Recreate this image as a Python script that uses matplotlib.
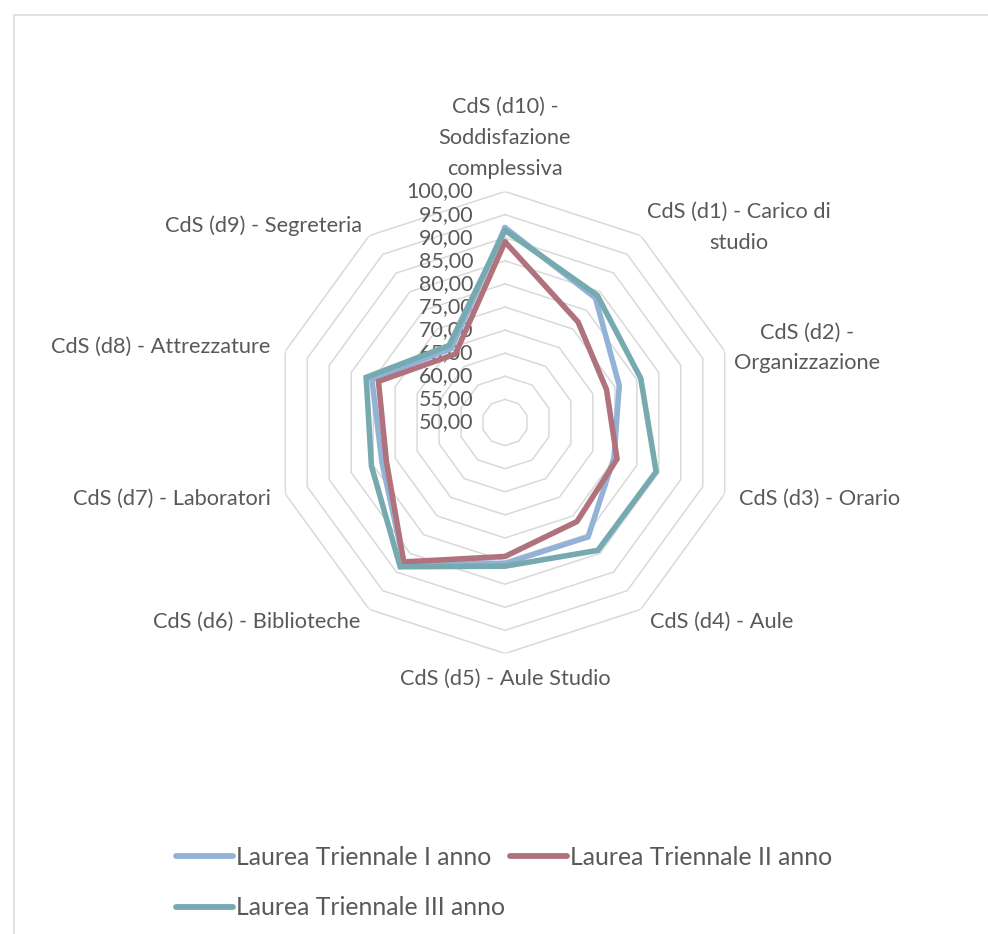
import numpy as np
import matplotlib
matplotlib.use("Agg")
import matplotlib.pyplot as plt
from matplotlib.patches import Rectangle
from matplotlib.transforms import offset_copy

plt.rcParams['font.family'] = ['Lato', 'DejaVu Sans']

# Axis categories, clockwise from the top
categories = [
    "CdS (d10) -\nSoddisfazione\ncomplessiva",
    "CdS (d1) - Carico di\nstudio",
    "CdS (d2) -\nOrganizzazione",
    "CdS (d3) - Orario",
    "CdS (d4) - Aule",
    "CdS (d5) - Aule Studio",
    "CdS (d6) - Biblioteche",
    "CdS (d7) - Laboratori",
    "CdS (d8) - Attrezzature",
    "CdS (d9) - Segreteria",
]

series_names = ["Laurea Triennale I anno", "Laurea Triennale II anno", "Laurea Triennale III anno"]
anno_1 = [92.2, 83.3, 76.0, 74.8, 80.6, 80.5, 87.3, 78.0, 80.3, 69.8]
anno_2 = [89.1, 76.9, 73.1, 75.5, 76.5, 79.0, 87.3, 77.0, 78.8, 68.3]
anno_3 = [91.6, 84.0, 80.9, 84.4, 84.2, 81.1, 88.6, 80.4, 81.6, 70.6]

r_ticks = [50, 55, 60, 65, 70, 75, 80, 85, 90, 95, 100]
r_tick_labels = ["50,00", "55,00", "60,00", "65,00", "70,00", "75,00",
                 "80,00", "85,00", "90,00", "95,00", "100,00"]

colors = ["#93B3D6", "#B0727C", "#77AAB0"]
text_color = "#595959"
grid_color = "#D9D9D9"

W, H = 988, 934
fig = plt.figure(figsize=(W / 100, H / 100), dpi=100)
fig.patch.set_facecolor("white")

# chart area border (extends past the right and bottom edges)
fig.add_artist(Rectangle((13.5 / W, -0.2), 1.5, (H - 14.5) / H + 0.2,
                         transform=fig.transFigure, fill=False,
                         edgecolor=grid_color, linewidth=1.1))

cx, cy, R = 505, 422.5, 231
ax = fig.add_axes([(cx - R) / W, (H - cy - R) / H, 2 * R / W, 2 * R / H],
                  projection="polar")
ax.set_theta_offset(np.pi / 2)
ax.set_theta_direction(-1)
ax.set_ylim(50, 100)
ax.grid(False)
ax.spines["polar"].set_visible(False)
ax.set_xticks([])
ax.set_yticks([])
ax.patch.set_alpha(0)

n = len(categories)
theta = np.arange(n) * 2 * np.pi / n
theta_closed = np.append(theta, theta[0])

# decagonal gridlines
for rv in r_ticks[1:]:
    ax.plot(theta_closed, [rv] * (n + 1), color=grid_color, lw=1.1, zorder=1)

# radial value labels along the top axis
lab_tr = offset_copy(ax.transData, fig=fig, x=-32, y=0, units="dots")
for rv, lab in zip(r_ticks, r_tick_labels):
    ax.text(0, rv, lab, transform=lab_tr, ha="right", va="center",
            fontsize=15.5, color=text_color, zorder=2)

# data series
handles = []
for vals, name, col in zip([anno_1, anno_2, anno_3], series_names, colors):
    h, = ax.plot(theta_closed, np.append(vals, vals[0]), color=col, lw=4.0,
                 solid_joinstyle="miter", solid_capstyle="round", label=name, zorder=3)
    handles.append(h)

# category labels around the chart
label_radius = {0: 102.8, 1: 102.2, 2: 102.2, 5: 103.3, 9: 102.6}
for i, (t, lab) in enumerate(zip(theta, categories)):
    deg = np.degrees(t)
    if i == 0:
        ha, va = "center", "bottom"
    elif i == 5:
        ha, va = "center", "top"
    elif deg < 180:
        ha, va = "left", "center"
    else:
        ha, va = "right", "center"
    rr = label_radius.get(i, 103.3)
    ax.text(t, rr, lab, ha=ha, va=va, multialignment="center", fontsize=15.7,
            color=text_color, linespacing=1.68, clip_on=False)

# legend: I and III in the first column, II in the second
order = [0, 2, 1]
leg = fig.legend([handles[k] for k in order], [series_names[k] for k in order],
                 loc="upper left", bbox_to_anchor=(176 / W, 1 - 846 / H),
                 ncol=2, frameon=False, fontsize=17.8, handlelength=2.3,
                 handletextpad=0.12, columnspacing=0.2, labelspacing=1.1,
                 borderpad=0, borderaxespad=0)
for t in leg.get_texts():
    t.set_color(text_color)
for lh in leg.get_lines():
    lh.set_linewidth(4.2)

fig.savefig("out.png", dpi=100, facecolor="white")
